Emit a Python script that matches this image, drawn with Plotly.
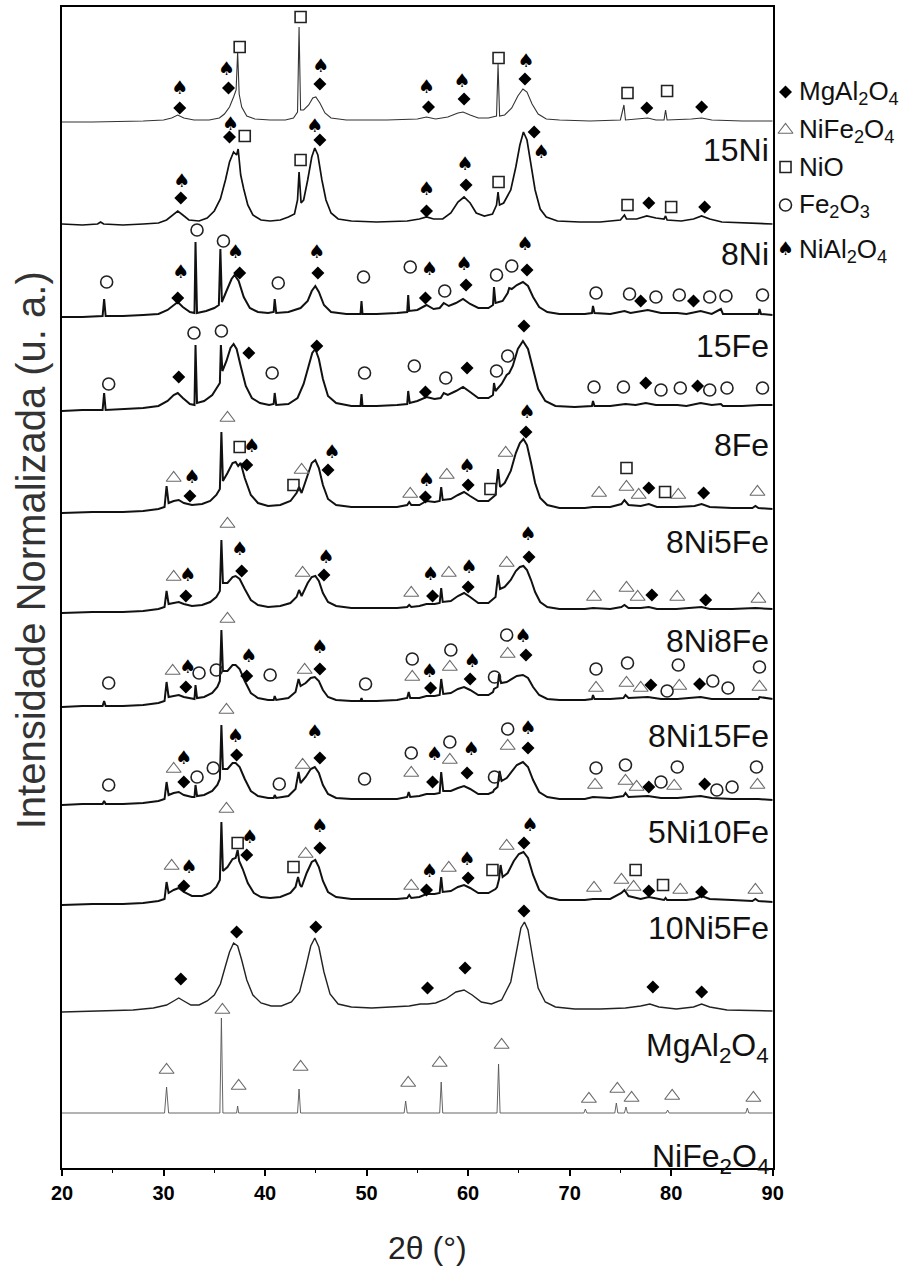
import plotly.graph_objects as go

# ---------------- diffraction patterns: (2theta, normalized intensity) ----------------
P_15NI = [(20,0),(23,0),(28,1),(30,2),(30.8,4),(31.4,7),(32.0,4),(33,2),(34.5,2),(35.5,4),(36.0,8),(36.5,15),
          (36.9,25),(37.15,32),(37.3,70),(37.45,28),(37.7,15),(38.2,6),(39,3),(40.5,2),(42,2),(42.8,4),(43.2,10),
          (43.35,95),(43.5,12),(43.8,12),(44.3,17),(44.7,24),(45.0,25),(45.4,19),(45.9,9),(46.5,4),(48,2),(52,2),
          (55,3),(55.9,5),(56.8,3),(58,5),(59.0,9),(59.5,10),(60.2,7),(61,4),(62,4),(62.8,6),(62.95,58),(63.1,6),
          (63.6,7),(64.3,14),(64.9,26),(65.4,33),(65.8,30),(66.3,18),(66.9,8),(67.7,3),(69,2),(72,1),(75,2),
          (75.35,17),(75.5,2),(77,3),(77.7,4),(78.5,2),(79.3,2),(79.45,12),(79.6,2),(82,3),(83.0,4),(84,2),(87,1),(90,1)]

P_8NI = [(20,1),(22,0),(23.5,1),(23.8,3),(24.1,1),(26,0),(28,1),(29.5,2),(30.3,5),(30.9,10),(31.4,14),(31.9,10),
         (32.5,5),(33.5,4),(34.3,7),(35.0,14),(35.6,26),(36.1,45),(36.5,63),(36.9,73),(37.2,70),(37.35,76),(37.6,50),
         (37.9,36),(38.3,20),(38.8,10),(39.6,5),(40.5,4),(41.5,5),(42.3,8),(42.9,11),(43.2,25),(43.35,53),(43.55,22),
         (43.8,25),(44.2,45),(44.6,68),(44.9,77),(45.2,70),(45.6,45),(46.0,25),(46.5,12),(47.2,6),(48.5,4),(51,3),
         (54,4),(55.2,6),(55.9,8),(56.6,6),(57.5,6),(58.3,12),(59.0,23),(59.6,28),(60.2,22),(60.8,12),(61.6,9),
         (62.4,11),(62.8,20),(62.95,33),(63.1,20),(63.5,22),(64.2,35),(64.7,58),(65.1,80),(65.45,93),(65.8,85),
         (66.2,60),(66.6,35),(67.1,16),(67.7,8),(68.8,4),(71,3),(73,3),(75,5),(75.4,10),(75.6,6),(76.6,6),(77.6,9),
         (78.5,7),(79.3,6),(79.45,9),(79.6,5),(81,4),(82.2,6),(83.0,9),(83.8,6),(85,3),(87,2),(90,1)]

P_15FE = [(20,0),(22,0),(24.0,1),(24.15,18),(24.3,1),(26,1),(28,2),(29.5,3),(30.4,7),(31.0,12),(31.4,15),(31.9,10),
          (32.6,5),(33.05,4),(33.15,75),(33.3,4),(34.2,6),(35.0,9),(35.45,12),(35.6,68),(35.75,15),(36.2,26),
          (36.7,38),(37.0,42),(37.4,36),(37.9,20),(38.5,9),(39.3,5),(40.3,4),(40.85,5),(40.95,18),(41.1,4),(42.3,5),
          (43.5,9),(44.2,16),(44.6,26),(44.95,31),(45.3,25),(45.8,12),(46.5,5),(48,3),(49.4,3),(49.5,16),(49.6,3),
          (51,3),(53,4),(54.0,5),(54.1,22),(54.2,6),(55.0,7),(55.9,12),(56.6,8),(57.2,9),(57.6,14),(58.1,11),
          (58.8,14),(59.5,18),(60.2,13),(61,9),(62.0,9),(62.45,12),(62.55,30),(62.7,14),(63.4,16),(63.9,24),
          (64.05,29),(64.3,28),(64.8,32),(65.4,35),(65.9,31),(66.4,20),(67,10),(67.8,5),(69,3),(71.5,3),(72.2,4),
          (72.3,11),(72.45,4),(74,3),(75.4,6),(76,4),(77.7,7),(79,4),(80.6,4),(81.5,3),(82.9,6),(84,3),(84.9,8),
          (85.1,3),(87,3),(88.6,3),(88.7,8),(88.85,3),(90,2)]

P_8FE = [(20,0),(22,1),(24.0,1),(24.15,18),(24.3,1),(26,2),(28,3),(29.5,5),(30.4,10),(31.0,16),(31.4,18),(31.9,13),
         (32.6,7),(33.05,6),(33.15,66),(33.3,8),(34.0,10),(34.8,16),(35.4,25),(35.55,28),(35.65,66),(35.8,40),
         (36.2,50),(36.6,63),(36.9,67),(37.2,62),(37.6,45),(38.1,25),(38.7,13),(39.5,8),(40.4,6),(40.85,7),
         (40.95,18),(41.1,6),(42.3,7),(43.2,13),(43.8,27),(44.3,45),(44.65,58),(44.95,62),(45.3,52),(45.7,32),
         (46.2,15),(47,8),(48.5,5),(49.4,5),(49.5,17),(49.6,5),(51,5),(53,6),(54.0,7),(54.1,20),(54.25,8),(55.0,10),
         (55.9,14),(56.7,12),(57.3,13),(57.6,18),(58.0,16),(58.8,20),(59.5,24),(60.2,19),(61,13),(62.0,13),
         (62.45,16),(62.55,28),(62.7,20),(63.3,27),(63.8,36),(64.05,38),(64.4,45),(64.9,62),(65.4,70),(65.9,62),
         (66.4,42),(66.9,22),(67.6,10),(68.6,5),(70.5,4),(72.2,5),(72.3,10),(72.45,5),(74,5),(75.5,7),(76.5,6),
         (77.5,8),(78.5,6),(80.6,6),(81.5,5),(82.9,8),(84,6),(84.9,7),(85.1,5),(87,5),(88.7,6),(90,6)]

P_8NI5FE = [(20,0),(23,1),(26,1),(28,2),(29.5,4),(30.1,6),(30.3,27),(30.5,10),(31.0,12),(31.5,13),(32.0,10),(32.8,8),
            (33.8,9),(34.6,12),(35.2,18),(35.55,24),(35.7,81),(35.85,32),(36.3,40),(36.8,50),(37.1,51),(37.35,47),
            (37.6,50),(38.0,35),(38.6,18),(39.3,10),(40.3,7),(41.5,8),(42.5,12),(43.1,20),(43.35,26),(43.6,20),
            (44.2,38),(44.6,50),(44.95,53),(45.3,45),(45.7,28),(46.2,14),(47,8),(48.5,6),(51,6),(53,6),(54.0,8),
            (54.2,11),(54.4,8),(55.2,8),(55.9,12),(56.7,11),(57.2,12),(57.35,26),(57.5,13),(58.3,14),(59.0,18),
            (59.6,21),(60.2,17),(61,12),(62.0,12),(62.7,18),(62.95,44),(63.15,26),(63.6,30),(64.2,42),(64.7,60),
            (65.1,70),(65.45,74),(65.8,68),(66.2,50),(66.6,30),(67.1,15),(67.8,8),(69,5),(71.5,5),(72.3,6),(74,6),
            (75.1,9),(75.4,13),(75.8,8),(77.0,7),(77.8,9),(78.6,6),(80.5,6),(82.3,7),(83.0,9),(83.8,6),(86,5),(88,5),
            (88.3,7),(88.6,5),(90,4)]

P_8NI8FE = [(20,0),(23,1),(26,1),(28,2),(29.5,4),(30.1,6),(30.3,22),(30.5,9),(31.0,10),(31.5,11),(32.0,9),(32.8,7),
            (33.8,8),(34.6,11),(35.2,16),(35.55,22),(35.7,73),(35.85,30),(36.3,30),(36.8,36),(37.1,37),(37.5,34),
            (38.0,24),(38.6,13),(39.3,8),(40.3,6),(41.5,7),(42.5,10),(43.1,16),(43.35,23),(43.6,17),(44.2,30),
            (44.6,36),(44.95,37),(45.3,32),(45.7,20),(46.2,11),(47,7),(48.5,5),(51,5),(53,5),(54.0,6),(54.2,8),
            (54.4,6),(55.2,7),(55.9,9),(56.7,9),(57.2,10),(57.35,25),(57.5,11),(58.3,12),(59.0,17),(59.6,20),
            (60.2,16),(61,10),(62.0,10),(62.7,16),(62.95,38),(63.15,24),(63.6,26),(64.2,33),(64.7,42),(65.1,46),
            (65.45,47),(65.8,43),(66.2,33),(66.6,21),(67.1,11),(67.8,6),(69,4),(71.5,4),(72.3,5),(74,4),(75.1,6),
            (75.4,8),(75.8,5),(77.0,5),(77.8,6),(78.6,4),(80.5,4),(82.3,5),(83.0,6),(83.8,4),(86,4),(88.3,5),(90,4)]

P_8NI15FE = [(20,0),(22,1),(24.0,1),(24.15,6),(24.3,1),(26,1),(28,2),(29.5,4),(30.1,6),(30.3,25),(30.5,10),(31.0,11),
             (31.5,12),(32.0,10),(32.8,8),(33.05,8),(33.15,22),(33.3,9),(34.0,10),(34.8,14),(35.3,20),(35.55,26),
             (35.7,77),(35.85,36),(36.3,36),(36.8,42),(37.1,42),(37.5,38),(38.0,26),(38.6,14),(39.3,9),(40.3,7),
             (40.85,7),(40.95,11),(41.1,7),(42.3,9),(43.0,15),(43.3,28),(43.5,21),(44.0,24),(44.5,29),(44.9,30),
             (45.3,26),(45.7,17),(46.2,10),(47,7),(48.5,6),(49.4,6),(49.5,9),(49.6,6),(51,6),(53,7),(54.0,9),
             (54.15,15),(54.3,9),(55.2,9),(55.9,11),(56.7,11),(57.2,12),(57.35,28),(57.55,13),(58.3,14),(59.0,18),
             (59.6,20),(60.2,17),(61,12),(62.0,12),(62.45,15),(62.55,18),(62.9,20),(63.05,33),(63.25,24),(63.8,25),
             (64.3,28),(64.8,31),(65.4,32),(65.9,29),(66.4,20),(67,12),(67.8,8),(69,7),(71.5,7),(72.2,8),(72.3,12),
             (72.45,8),(74,8),(75.3,9),(75.5,12),(75.8,9),(77.7,10),(79,8),(80.6,8),(82.9,10),(84,8),(86,8),(88.6,8),
             (88.7,10),(90,8)]

P_5NI10FE = [(20,0),(22,1),(24.0,1),(24.15,4),(24.3,1),(26,1),(28,2),(29.5,4),(30.1,6),(30.3,23),(30.5,10),(31.0,12),
             (31.5,13),(32.0,10),(32.8,8),(33.05,8),(33.15,20),(33.3,9),(34.0,10),(34.8,14),(35.3,20),(35.55,26),
             (35.7,80),(35.85,36),(36.3,36),(36.8,42),(37.1,42),(37.5,38),(38.0,26),(38.6,14),(39.3,9),(40.3,7),
             (40.85,7),(40.95,10),(41.1,7),(42.3,9),(43.0,16),(43.3,33),(43.5,22),(44.0,28),(44.5,36),(44.9,38),
             (45.3,32),(45.7,20),(46.2,11),(47,7),(48.5,6),(51,6),(53,6),(54.0,8),(54.15,13),(54.3,8),(55.2,9),
             (55.9,11),(56.7,11),(57.2,12),(57.35,33),(57.55,14),(58.3,14),(59.0,17),(59.6,19),(60.2,16),(61,11),
             (62.0,11),(62.45,13),(62.55,15),(62.9,18),(63.1,34),(63.3,24),(63.8,27),(64.3,33),(64.8,40),(65.4,43),
             (65.9,38),(66.4,25),(67,13),(67.8,8),(69,6),(71.5,6),(72.3,8),(74,7),(75.3,9),(75.5,12),(75.8,8),
             (77.7,9),(79,7),(80.6,7),(82.9,9),(84,7),(86,6),(88.6,6),(90,5)]

P_10NI5FE = [(20,0),(23,1),(26,1),(28,2),(29.5,4),(30.1,6),(30.3,23),(30.5,12),(31.0,15),(31.5,17),(32.0,13),(32.8,9),
             (33.8,9),(34.6,12),(35.2,18),(35.55,25),(35.7,83),(35.85,34),(36.3,38),(36.8,46),(37.1,47),(37.3,55),
             (37.45,44),(37.8,36),(38.3,22),(38.9,12),(39.6,8),(40.5,7),(41.5,8),(42.5,12),(43.0,18),(43.25,28),
             (43.45,20),(43.6,18),(44.1,32),(44.6,43),(44.95,45),(45.3,38),(45.7,24),(46.2,13),(47,8),(48.5,6),(51,6),
             (53,6),(54.0,7),(54.2,10),(54.4,7),(55.2,8),(55.9,11),(56.7,11),(57.2,12),(57.35,28),(57.5,13),(58.3,14),
             (59.0,18),(59.6,20),(60.2,17),(61,12),(62.0,12),(62.7,16),(62.85,18),(63.05,26),(63.2,40),(63.4,28),
             (63.9,32),(64.5,44),(65.0,51),(65.45,53),(65.9,47),(66.4,30),(67,15),(67.8,8),(69,5),(71.5,5),(72.3,6),
             (74,6),(75.1,12),(75.4,15),(75.8,9),(77.0,6),(77.8,8),(78.6,6),(79.3,5),(79.45,7),(79.6,5),(81.5,5),
             (82.3,6),(83.0,9),(83.8,6),(86,5),(88,4),(88.3,6),(88.6,4),(90,3)]

P_MGAL2O4 = [(20,0),(24,1),(27,2),(29,4),(30.3,7),(31.0,11),(31.5,14),(32.0,11),(32.7,7),(33.5,7),(34.3,11),(35.0,17),
             (35.6,28),(36.1,46),(36.5,60),(36.9,69),(37.3,66),(37.7,52),(38.2,32),(38.8,17),(39.6,9),(40.6,6),
             (41.6,6),(42.6,10),(43.4,20),(44.0,44),(44.5,66),(44.9,74),(45.3,65),(45.8,40),(46.4,18),(47.2,8),
             (48.5,5),(50.5,4),(52.5,5),(54.2,6),(55.3,8),(56.0,8),(56.8,9),(57.8,13),(58.8,20),(59.6,22),(60.4,17),
             (61.3,10),(62.3,8),(63.3,12),(64.2,30),(64.8,62),(65.2,84),(65.55,90),(65.9,82),(66.4,52),(66.9,24),
             (67.6,10),(68.6,5),(70.5,3),(73,3),(75.5,4),(77.0,6),(77.9,8),(78.8,5),(80.5,3),(82.2,5),(83.0,8),
             (83.8,5),(85.5,2),(90,1)]

P_NIFE2O4 = [(20,0),(30.1,0),(30.3,26),(30.5,0),(35.55,0),(35.7,95),(35.85,0),(37.2,0),(37.3,7),(37.4,0),(43.2,0),
             (43.35,24),(43.5,0),(53.7,0),(53.85,12),(54.0,0),(57.2,0),(57.35,31),(57.5,0),(62.85,0),(63.0,49),
             (63.15,0),(71.4,0),(71.55,4),(71.7,0),(74.45,0),(74.6,10),(74.75,0),(75.4,0),(75.55,6),(75.7,0),
             (79.5,0),(79.65,3),(79.8,0),(87.35,0),(87.5,5),(87.65,0),(90,0)]

# ---------------- phase identification marks: (2theta, height above pattern) ----------------
# D = MgAl2O4, T = NiFe2O4, Q = NiO, C = Fe2O3, S = NiAl2O4
M_15NI = {"D": [(31.6,14),(36.4,34),(45.4,38),(56.1,15),(59.6,23),(65.6,43),(77.6,14),(83.0,15)],
          "S": [(31.6,33),(36.2,52),(45.5,55),(55.9,34),(59.4,40),(65.7,60)],
          "Q": [(37.5,75),(43.5,105),(63.0,64),(75.7,29),(79.6,31)]}
M_8NI = {"D": [(31.7,27),(36.5,88),(45.4,85),(55.9,14),(59.8,40),(66.5,93),(77.8,22),(83.3,18)],
         "S": [(31.8,43),(36.6,100),(44.9,98),(55.9,35),(59.7,60),(67.2,72)],
         "Q": [(38.0,89),(43.5,65),(63.0,43),(75.7,20),(80.0,18)]}
M_15FE = {"C": [(24.4,35),(33.3,87),(35.9,76),(41.3,34),(49.7,40),(54.3,50),(57.7,26),(62.8,42),(64.3,51),(72.6,24),
                (75.9,23),(78.5,20),(80.8,22),(83.8,20),(85.4,21),(89.0,22)],
          "D": [(31.4,19),(37.5,44),(45.2,44),(55.8,19),(59.8,32),(65.8,47),(77.0,16),(82.2,16)],
          "S": [(31.7,44),(37.1,64),(45.1,64),(56.2,47),(59.6,52),(65.6,72)]}
M_8FE = {"C": [(24.6,27),(33.0,78),(35.7,80),(40.7,38),(49.8,38),(54.7,45),(57.8,33),(62.8,40),(63.9,55),(72.4,24),
               (75.3,24),(79.0,21),(80.9,23),(83.8,21),(85.5,23),(89.0,23)],
         "D": [(31.5,34),(38.4,58),(45.1,65),(55.8,19),(59.9,43),(65.5,85),(77.5,28),(82.6,25)]}
M_8NI5FE = {"T": [(31.0,35),(36.3,95),(43.6,43),(54.3,19),(57.9,38),(63.7,60),(72.9,20),(75.6,26),(76.8,18),(80.7,18),(88.5,21)],
            "S": [(32.8,35),(38.7,66),(46.6,60),(55.9,32),(59.9,46),(65.8,100)],
            "D": [(32.6,17),(38.2,48),(46.2,43),(55.8,16),(60.0,28),(65.7,81),(77.8,25),(83.2,20)],
            "Q": [(37.5,66),(42.8,28),(62.2,24),(75.6,45),(79.4,21)]}
M_8NI8FE = {"T": [(31.0,36),(36.3,89),(43.7,40),(54.4,20),(58.1,40),(63.8,50),(72.4,16),(75.6,25),(76.7,16),(80.6,16),(88.6,14)],
            "S": [(32.4,37),(37.5,63),(46.0,55),(56.3,38),(60.1,45),(65.9,78)],
            "D": [(32.2,17),(37.7,42),(45.8,38),(56.5,17),(60.0,26),(66.0,56),(78.1,18),(83.4,13)]}
M_8NI15FE = {"C": [(24.6,24),(33.5,34),(35.2,37),(40.5,32),(49.9,23),(54.5,48),(58.3,57),(62.6,30),(63.8,72),(72.6,38),
                   (75.7,44),(79.6,16),(80.7,42),(84.1,26),(85.6,19),(88.7,40)],
             "T": [(30.9,36),(36.3,88),(43.9,37),(54.5,30),(58.2,40),(63.9,53),(72.6,19),(75.6,24),(77.0,19),(80.8,21),(88.7,20)],
             "S": [(32.4,39),(38.4,50),(45.4,59),(56.2,35),(60.4,45),(65.4,70)],
             "D": [(32.2,20),(38.2,31),(45.4,38),(56.3,19),(60.2,28),(65.7,52),(78.0,22),(82.8,23)]}
M_5NI10FE = {"C": [(24.6,20),(33.3,28),(34.9,37),(41.4,21),(49.8,26),(54.4,52),(58.2,63),(62.6,28),(63.9,76),(72.6,37),
                   (75.5,40),(79.0,23),(80.6,38),(84.5,15),(86.0,18),(88.4,38)],
             "T": [(31.0,36),(36.2,95),(43.7,40),(54.4,32),(58.2,45),(63.9,59),(72.5,20),(75.5,24),(76.6,18),(80.3,19),(88.5,20)],
             "S": [(32.0,46),(37.1,68),(44.9,72),(56.7,50),(60.3,55),(65.9,76)],
             "D": [(32.0,23),(37.2,50),(45.4,47),(56.5,23),(59.9,32),(65.9,57),(77.8,18),(83.3,21)]}
M_10NI5FE = {"T": [(30.8,39),(36.2,96),(44.0,51),(54.4,19),(58.1,37),(63.8,59),(72.4,17),(75.1,25),(76.3,18),(80.9,15),(88.3,15)],
             "S": [(32.5,37),(38.5,67),(45.4,78),(56.2,33),(59.9,45),(66.1,79)],
             "D": [(32.0,19),(38.2,50),(45.4,57),(55.9,15),(60.0,27),(65.5,62),(77.8,14),(83.0,13)],
             "Q": [(37.3,62),(42.8,38),(62.4,35),(76.5,35),(79.2,20)]}
M_MGAL2O4 = {"D": [(31.7,33),(37.2,80),(45.0,85),(56.0,24),(59.7,44),(65.5,101),(78.2,25),(83.0,20)]}
M_NIFE2O4 = {"T": [(30.3,43),(35.8,103),(37.4,27),(43.5,46),(54.1,30),(57.2,50),(63.3,68),(71.9,14),(74.7,24),
                   (76.1,15),(80.1,17),(88.1,15)]}

SAMPLES = ["15Ni", "8Ni", "15Fe", "8Fe", "8Ni5Fe", "8Ni8Fe", "8Ni15Fe", "5Ni10Fe", "10Ni5Fe",
           "MgAl<sub>2</sub>O<sub>4</sub>", "NiFe<sub>2</sub>O<sub>4</sub>"]
PATTERNS = [P_15NI, P_8NI, P_15FE, P_8FE, P_8NI5FE, P_8NI8FE, P_8NI15FE, P_5NI10FE, P_10NI5FE, P_MGAL2O4, P_NIFE2O4]
MARKS = [M_15NI, M_8NI, M_15FE, M_8FE, M_8NI5FE, M_8NI8FE, M_8NI15FE, M_5NI10FE, M_10NI5FE, M_MGAL2O4, M_NIFE2O4]

PHASES = ["D", "T", "Q", "C", "S"]
PHASE_NAMES = ["MgAl<sub>2</sub>O<sub>4</sub>", "NiFe<sub>2</sub>O<sub>4</sub>", "NiO",
               "Fe<sub>2</sub>O<sub>3</sub>", "NiAl<sub>2</sub>O<sub>4</sub>"]

# ---------------- layout of the stack ----------------
Y_TOP = 1161
OFFSETS = [1046, 943, 851, 757, 655, 555, 461, 363, 263, 156, 55]
LABEL_GAP = [28, 29, 29, 34, 29, 28, 29, 27, 23, 35, 45]
LINE_W = [1.1, 1.7, 2.0, 2.0, 2.0, 2.0, 2.0, 2.0, 2.0, 1.4, 0.9]
LINE_C = ["#333", "#111", "#111", "#111", "#111", "#111", "#111", "#111", "#111", "#222", "#555"]

SPADE = "\u2660"
MARK_STYLE = {
    "D": dict(symbol="diamond", size=10, color="black", line=dict(width=0)),
    "T": dict(symbol="triangle-up-open", size=13, color="#6a6a6a", line=dict(width=1.1, color="#6a6a6a")),
    "Q": dict(symbol="square-open", size=11, color="#222", line=dict(width=1.6, color="#222")),
    "C": dict(symbol="circle-open", size=12, color="#222", line=dict(width=1.6, color="#222")),
}
FONT = "Liberation Sans, Arial, sans-serif"
SPADE_FONT = dict(family="DejaVu Sans", size=19, color="black")

fig = go.Figure()

for pat, off, w, c in zip(PATTERNS, OFFSETS, LINE_W, LINE_C):
    fig.add_trace(go.Scatter(x=[p[0] for p in pat], y=[off + p[1] for p in pat], mode="lines",
                             line=dict(color=c, width=w), showlegend=False, hoverinfo="skip"))

for ph in PHASES:
    xs, ys = [], []
    for marks, off in zip(MARKS, OFFSETS):
        for t, h in marks.get(ph, []):
            xs.append(t)
            ys.append(off + h)
    if ph == "S":
        fig.add_trace(go.Scatter(x=xs, y=ys, mode="text", text=[SPADE] * len(xs), textfont=SPADE_FONT,
                                 textposition="middle center", showlegend=False, hoverinfo="skip"))
    else:
        fig.add_trace(go.Scatter(x=xs, y=ys, mode="markers", marker=MARK_STYLE[ph],
                                 showlegend=False, hoverinfo="skip"))

# sample labels below each pattern
for name, off, gap in zip(SAMPLES, OFFSETS, LABEL_GAP):
    fig.add_annotation(x=89.85, y=off - gap, xref="x", yref="y", text=name, showarrow=False,
                       xanchor="right", yanchor="middle", font=dict(family=FONT, size=32, color="#111"))

W, H = 912, 1276
ML, MB, MT = 62, 108, 7
PLOT_R = 782
dom = (PLOT_R - ML) / (W - ML)

# phase key on the right
KEY_Y = [1076, 1038, 1001, 963, 918]
KEY_MX, KEY_TX = 795, 807
for ph, nm, ky in zip(PHASES, PHASE_NAMES, KEY_Y):
    if ph == "S":
        fig.add_trace(go.Scatter(x=[KEY_MX], y=[ky], mode="text", text=[SPADE], xaxis="x2", yaxis="y2",
                                 textfont=SPADE_FONT, textposition="middle center",
                                 showlegend=False, hoverinfo="skip"))
    else:
        fig.add_trace(go.Scatter(x=[KEY_MX], y=[ky], mode="markers", marker=MARK_STYLE[ph], xaxis="x2", yaxis="y2",
                                 showlegend=False, hoverinfo="skip"))
    fig.add_annotation(x=KEY_TX, y=ky, xref="x2", yref="y2", text=nm, showarrow=False, xanchor="left",
                       yanchor="middle", font=dict(family=FONT, size=26, color="#111"))

fig.update_layout(
    width=W, height=H, margin=dict(l=ML, r=0, t=MT, b=MB),
    paper_bgcolor="white", plot_bgcolor="white", showlegend=False,
    xaxis=dict(domain=[0, dom], range=[20, 90], tickvals=[20, 30, 40, 50, 60, 70, 80, 90],
               ticks="outside", ticklen=6, tickwidth=1.5, tickcolor="black",
               minor=dict(dtick=5, ticks="outside", ticklen=3, tickcolor="black", tickwidth=1.2),
               tickfont=dict(family=FONT, size=20, color="black", weight="bold"),
               showline=True, linecolor="black", linewidth=1.5, mirror=True, showgrid=False, zeroline=False),
    yaxis=dict(range=[0, Y_TOP], showticklabels=False, ticks="", showline=True, linecolor="black",
               linewidth=1.5, mirror=True, showgrid=False, zeroline=False),
    xaxis2=dict(domain=[dom, 1], range=[PLOT_R, W], visible=False, anchor="y2"),
    yaxis2=dict(domain=[0, 1], range=[0, Y_TOP], visible=False, anchor="x2"),
)

fig.add_annotation(x=-0.037, y=0.532, xref="paper", yref="paper", text="Intensidade Normalizada (u. a.)",
                   textangle=-90, showarrow=False, xanchor="center", yanchor="middle",
                   font=dict(family=FONT, size=40, color="#333"))
fig.add_annotation(x=56.0, y=-0.069, xref="x", yref="paper", text="2\u03b8 (\u00b0)", showarrow=False,
                   xanchor="center", yanchor="middle", font=dict(family=FONT, size=32, color="#222"))

fig.write_html("out.html")
